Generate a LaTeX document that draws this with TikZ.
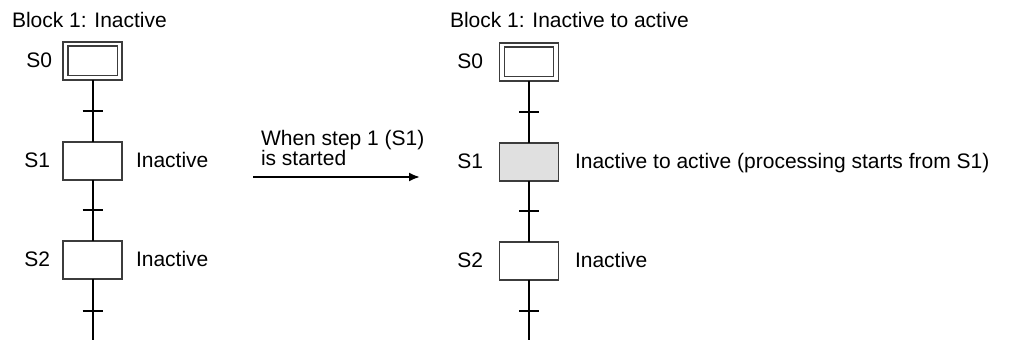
\documentclass[tikz,border=0pt]{standalone}
\usepackage{fontspec}
\setmainfont{Liberation Sans}
\usetikzlibrary{arrows.meta}
\definecolor{boxgray}{HTML}{3C3C3C}
\definecolor{activefill}{HTML}{E0E0E0}
\begin{document}
\begin{tikzpicture}[x=0.5pt,y=-0.5pt,
  font=\fontsize{10.5pt}{10pt}\selectfont,
  stepbox/.style={draw=boxgray, line width=0.7pt, minimum width=29.5pt, minimum height=19pt, inner sep=0pt, outer sep=0pt},
  initstep/.style={stepbox, path picture={\draw[boxgray, line width=0.7pt]
      ([shift={(2.4pt,-2.1pt)}]path picture bounding box.north west) rectangle
      ([shift={(-2.4pt,2.1pt)}]path picture bounding box.south east);}},
  activestep/.style={stepbox, fill=activefill},
  link/.style={line width=1pt, black},
  tickmark/.style={line width=1pt, black},
  lbl/.style={inner sep=0pt, outer sep=0pt}]
\useasboundingbox (0,0) rectangle (1009,341);

% ---------- titles ----------
\node[lbl, anchor=base west] (t1) at (12,28) {Block 1: Inactive};
\node[lbl, anchor=base west] (t2) at (450,28) {Block 1: Inactive to active};

% ---------- left chart ----------
\node[initstep] (a0) at (92.5,61) {};
\node[stepbox] (a1) at (92.5,161) {};
\node[stepbox] (a2) at (92.5,260) {};
\coordinate (aend) at (92.5,340);
\draw[link] (a0) -- coordinate (at1) (a1);
\draw[link] (a1) -- coordinate (at2) (a2);
\draw[link] (a2) -- coordinate[pos=0.52] (at3) (aend);
\foreach \t in {at1,at2,at3} \draw[tickmark] ([xshift=-5pt]\t) -- ([xshift=5pt]\t);
\node[lbl, anchor=base east] (la0) at (52,68) {S0};
\node[lbl, anchor=base east] (la1) at (50,168) {S1};
\node[lbl, anchor=base east] (la2) at (50,267) {S2};
\node[lbl, anchor=base west] (ia1) at (136,168) {Inactive};
\node[lbl, anchor=base west] (ia2) at (136,267) {Inactive};

% ---------- arrow ----------
\coordinate (arrS) at (253,177);
\coordinate (arrE) at (420,177);
\draw[line width=1pt, -{Latex[length=5.5pt,width=4.5pt]}] (arrS) -- (arrE);
\node[lbl, anchor=base west, align=left] (arrlbl) at (261,166) {When step 1 (S1)\\is started};

% ---------- right chart ----------
\node[initstep] (b0) at (529,62) {};
\node[activestep] (b1) at (529,162) {};
\node[stepbox] (b2) at (529,261) {};
\coordinate (bend) at (529,340);
\draw[link] (b0) -- coordinate (bt1) (b1);
\draw[link] (b1) -- coordinate (bt2) (b2);
\draw[link] (b2) -- coordinate[pos=0.52] (bt3) (bend);
\foreach \t in {bt1,bt2,bt3} \draw[tickmark] ([xshift=-5pt]\t) -- ([xshift=5pt]\t);
\node[lbl, anchor=base east] (lb0) at (483,69) {S0};
\node[lbl, anchor=base east] (lb1) at (483,169) {S1};
\node[lbl, anchor=base east] (lb2) at (483,268) {S2};
\node[lbl, anchor=base west] (ib1) at (575,169) {Inactive to active (processing starts from S1)};
\node[lbl, anchor=base west] (ib2) at (575,268) {Inactive};
\end{tikzpicture}
\end{document}
